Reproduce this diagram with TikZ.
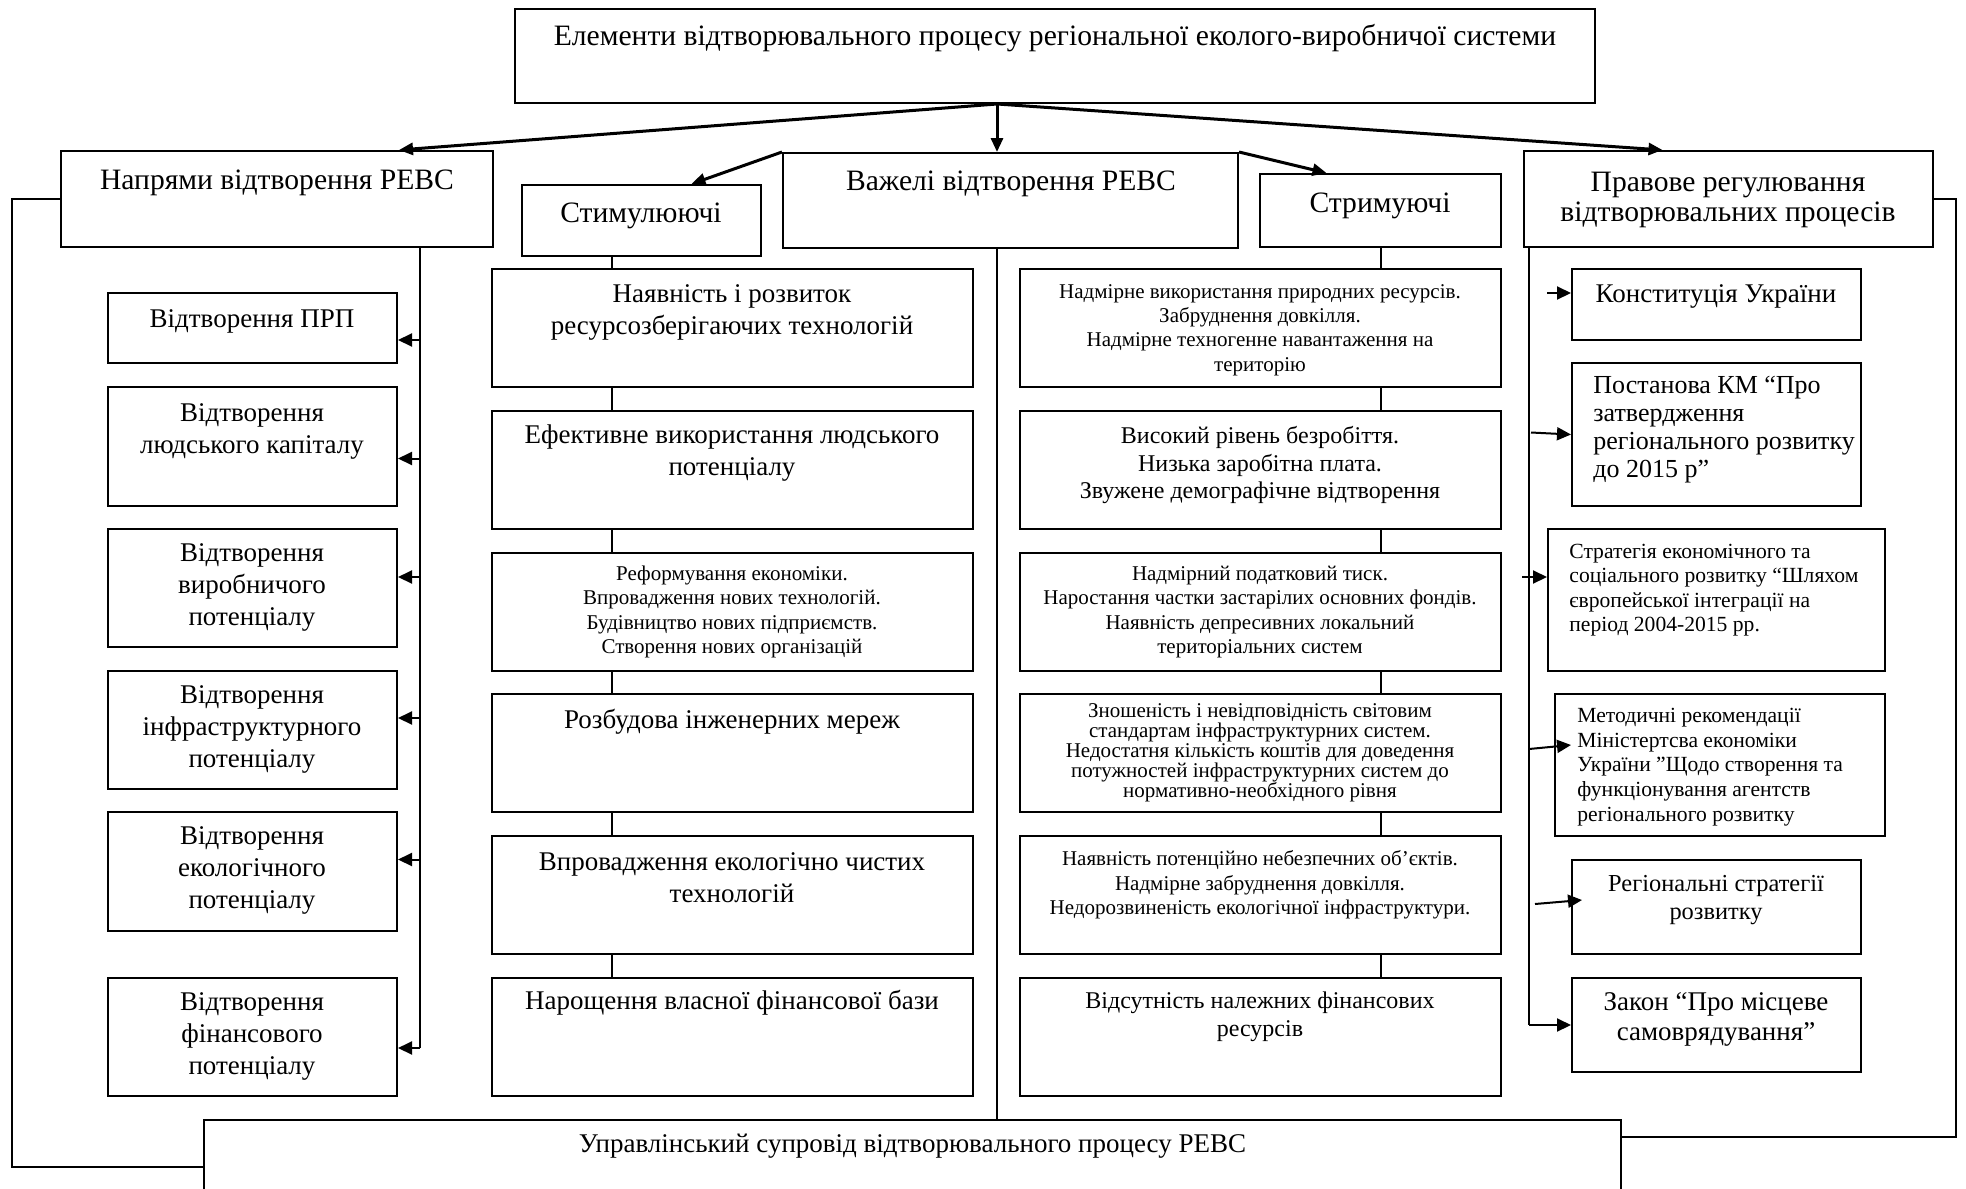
\documentclass[tikz,border=0pt]{standalone}
\usepackage{fontspec}
\setmainfont{Liberation Serif}
\usetikzlibrary{fit,arrows.meta}
\tikzset{
  box/.style={draw=black, line width=1pt, fill=white, inner sep=0pt},
  conn/.style={draw=black, line width=1pt},
  feed/.style={draw=black, line width=1.5pt, -{Triangle[length=7pt,width=6pt]}},
  arr/.style={draw=black, line width=1pt, -{Triangle[length=7pt,width=6.5pt]}},
  head/.style={font=\fontsize{14.8}{15.2}\selectfont, align=center, inner sep=0pt},
  big/.style={font=\fontsize{13.5}{16}\selectfont, align=center, inner sep=0pt},
  mid/.style={font=\fontsize{12}{13.8}\selectfont, align=center, inner sep=0pt},
  small/.style={font=\fontsize{10.5}{12.2}\selectfont, align=center, inner sep=0pt},
  tight/.style={font=\fontsize{10.5}{10}\selectfont, align=center, inner sep=0pt},
  lft/.style={align=left, anchor=west, inner sep=0pt},
}

\begin{document}
\begin{tikzpicture}[x=0.5pt, y=-0.5pt]
  \fill[white] (0,0) rectangle (1966,1189);
  \useasboundingbox (0,0) rectangle (1966,1189);

  % header row
  \node[box, fit={(515,9) (1595,103)}] (elem) {};
  \node[head] (elemt) at (1055,38) {Елементи відтворювального процесу регіональної еколого-виробничої системи};
  \node[box, fit={(61,151) (493,247)}] (napr) {};
  \node[head] (naprt) at (277,183) {Напрями відтворення РЕВС};
  \node[box, fit={(522,185) (761,256)}] (stym) {};
  \node[head] (stymt) at (641,216) {Стимулюючі};
  \node[box, fit={(783,153) (1238,248)}] (vazh) {};
  \node[head] (vazht) at (1011,184) {Важелі відтворення РЕВС};
  \node[box, fit={(1260,174) (1501,247)}] (strym) {};
  \node[head] (strymt) at (1380,206) {Стримуючі};
  \node[box, fit={(1524,151) (1933,247)}] (prav) {};
  \node[head] (pravt) at (1728,200) {Правове регулювання\\відтворювальних процесів};

  % directions
  \node[box, fit={(108,293) (397,363)}] (n1) {};
  \node[big] (n1t) at (252,321) {Відтворення ПРП};
  \node[box, fit={(108,387) (397,506)}] (n2) {};
  \node[big] (n2t) at (252,431) {Відтворення\\людського капіталу};
  \node[box, fit={(108,529) (397,647)}] (n3) {};
  \node[big] (n3t) at (252,587) {Відтворення\\виробничого\\потенціалу};
  \node[box, fit={(108,671) (397,789)}] (n4) {};
  \node[big] (n4t) at (252,729) {Відтворення\\інфраструктурного\\потенціалу};
  \node[box, fit={(108,812) (397,931)}] (n5) {};
  \node[big] (n5t) at (252,870) {Відтворення\\екологічного\\потенціалу};
  \node[box, fit={(108,978) (397,1096)}] (n6) {};
  \node[big] (n6t) at (252,1036) {Відтворення\\фінансового\\потенціалу};

  % stimulating levers
  \node[box, fit={(492,269) (973,387)}] (s1) {};
  \node[big] (s1t) at (732,312) {Наявність і розвиток\\ресурсозберігаючих технологій};
  \node[box, fit={(492,411) (973,529)}] (s2) {};
  \node[big] (s2t) at (732,453) {Ефективне використання людського\\потенціалу};
  \node[box, fit={(492,553) (973,671)}] (s3) {};
  \node[small] (s3t) at (732,612) {Реформування економіки.\\Впровадження нових технологій.\\Будівництво нових підприємств.\\Створення нових організацій};
  \node[box, fit={(492,694) (973,812)}] (s4) {};
  \node[big] (s4t) at (732,722) {Розбудова інженерних мереж};
  \node[box, fit={(492,836) (973,954)}] (s5) {};
  \node[big] (s5t) at (732,878) {Впровадження екологічно чистих\\технологій};
  \node[box, fit={(492,978) (973,1096)}] (s6) {};
  \node[big] (s6t) at (732,1003) {Нарощення власної фінансової бази};

  % restraining levers
  \node[box, fit={(1020,269) (1501,387)}] (r1) {};
  \node[small] (r1t) at (1260,330) {Надмірне використання природних ресурсів.\\Забруднення довкілля.\\Надмірне техногенне навантаження на\\територію};
  \node[box, fit={(1020,411) (1501,529)}] (r2) {};
  \node[mid] (r2t) at (1260,465) {Високий рівень безробіття.\\Низька заробітна плата.\\Звужене демографічне відтворення};
  \node[box, fit={(1020,553) (1501,671)}] (r3) {};
  \node[small] (r3t) at (1260,612) {Надмірний податковий тиск.\\Наростання частки застарілих основних фондів.\\Наявність депресивних локальний\\територіальних систем};
  \node[box, fit={(1020,694) (1501,812)}] (r4) {};
  \node[tight] (r4t) at (1260,753) {Зношеність і невідповідність світовим\\стандартам інфраструктурних систем.\\Недостатня кількість коштів для доведення\\потужностей інфраструктурних систем до\\нормативно-необхідного рівня};
  \node[box, fit={(1020,836) (1501,954)}] (r5) {};
  \node[small] (r5t) at (1260,885) {Наявність потенційно небезпечних об’єктів.\\Надмірне забруднення довкілля.\\Недорозвиненість екологічної інфраструктури.};
  \node[box, fit={(1020,978) (1501,1096)}] (r6) {};
  \node[mid] (r6t) at (1260,1017) {Відсутність належних фінансових\\ресурсів};

  % legal regulation
  \node[box, fit={(1572,269) (1861,340)}] (p1) {};
  \node[big] (p1t) at (1716,296) {Конституція України};
  \node[box, fit={(1572,363) (1861,506)}] (p2) {};
  \node[lft, font=\fontsize{13}{14}\selectfont] (p2t) at (1593,430) {Постанова КМ “Про\\затвердження\\регіонального розвитку\\до 2015 р”};
  \node[box, fit={(1548,529) (1885,671)}] (p3) {};
  \node[lft, font=\fontsize{10.8}{12.2}\selectfont] (p3t) at (1569,590) {Стратегія економічного та\\соціального розвитку “Шляхом\\європейської інтеграції на\\період 2004-2015 рр.};
  \node[box, fit={(1555,694) (1885,836)}] (p4) {};
  \node[lft, font=\fontsize{10.8}{12.3}\selectfont] (p4t) at (1577,767) {Методичні рекомендації\\Міністертсва економіки\\України ”Щодо створення та\\функціонування агентств\\регіонального розвитку};
  \node[box, fit={(1572,860) (1861,954)}] (p5) {};
  \node[big, font=\fontsize{12.2}{14}\selectfont] (p5t) at (1716,900) {Регіональні стратегії\\розвитку};
  \node[box, fit={(1572,978) (1861,1072)}] (p6) {};
  \node[big, font=\fontsize{13.5}{15}\selectfont] (p6t) at (1716,1019) {Закон “Про місцеве\\самоврядування”};

  % management support
  \node[box, fit={(204,1120) (1621,1214)}] (upr) {};
  \node[big] (uprt) at ([yshift=-13.5pt]upr.north) {Управлінський супровід відтворювального процесу РЕВС};

  % arrows from the top box
  \coordinate (hub) at ([xshift=-29pt]elem.south);
  \draw[feed] (hub) -- ([xshift=61pt]napr.north);
  \draw[feed] (hub) -- (hub |- vazh.north);
  \draw[feed] (hub) -- ([xshift=-33pt]prav.north);
  \draw[feed] (vazh.north west) -- ([xshift=25pt]stym.north);
  \draw[feed] (vazh.north east) -- ([xshift=-27pt]strym.north);

  % spines
  \coordinate (spN) at (420,0);
  \coordinate (spS) at (612,0);
  \coordinate (spR) at (1381,0);
  \coordinate (spP) at (1529,0);
  \coordinate (n6a) at ([yshift=-5.5pt]n6.east);
  \draw[conn] (napr.south -| spN) -- (n6a -| spN);
  \foreach \b/\dy in {n1/-6pt, n2/-6pt, n3/5.5pt, n4/6pt, n5/6pt, n6/-5.5pt} {
    \coordinate (\b a) at ([yshift=\dy]\b.east);
    \draw[arr] (\b a -| spN) -- (\b a);
  }
  \draw[conn] (stym.south -| spS) -- (s1.north -| spS);
  \draw[conn] (strym.south -| spR) -- (r1.north -| spR);
  \foreach \a/\b in {1/2, 2/3, 3/4, 4/5, 5/6} {
    \draw[conn] (s\a.south -| spS) -- (s\b.north -| spS);
    \draw[conn] (r\a.south -| spR) -- (r\b.north -| spR);
  }
  \draw[conn] (hub |- vazh.south) -- (hub |- upr.north);

  % legal acts
  \draw[conn] (prav.south -| spP) -- (p6.west -| spP);
  \coordinate (p1a) at ([yshift=5.75pt]p1.west);
  \draw[arr] ([xshift=-12pt]p1a) -- (p1a);
  \draw[arr] ([shift={(-20pt,1pt)}]p2.west) -- (p2.west);
  \coordinate (p3a) at ([yshift=11.5pt]p3.west);
  \draw[arr] ([xshift=-12.5pt]p3a) -- (p3a);
  \coordinate (p4a) at ([shift={(8.5pt,10pt)}]p4.west);
  \draw[arr] ([yshift=-2pt]p4a -| spP) -- (p4a);
  \coordinate (p5a) at ([shift={(5.5pt,3.5pt)}]p5.west);
  \draw[arr] ([shift={(-23.5pt,-2pt)}]p5a) -- (p5a);
  \draw[arr] (p6.west -| spP) -- (p6.west);

  % outer feedback lines
  \coordinate (oL) at (12,0);
  \coordinate (oR) at (1956,0);
  \coordinate (uprR) at ([yshift=15pt]upr.east);
  \draw[conn] (napr.west) -- (napr.west -| oL) |- (upr.west);
  \draw[conn] (prav.east) -- (prav.east -| oR) |- (uprR);
\end{tikzpicture}
\end{document}
